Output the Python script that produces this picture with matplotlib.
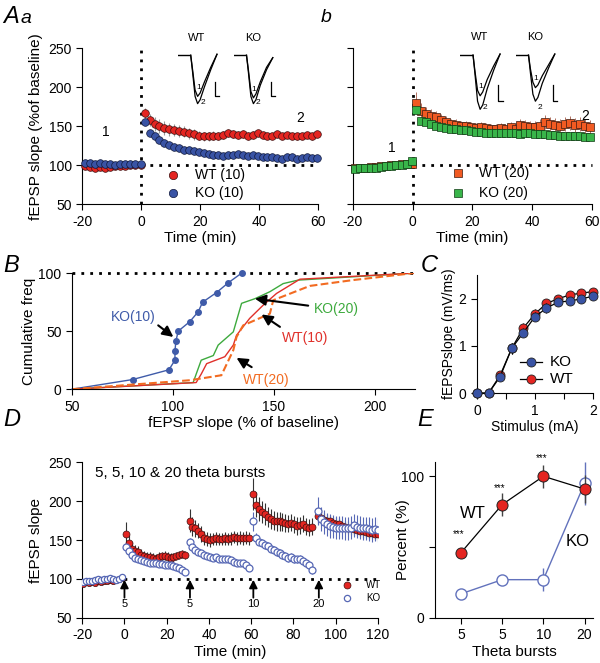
import numpy as np
import matplotlib
matplotlib.use("Agg")
import matplotlib.pyplot as plt

plt.rcParams['font.family'] = ['Liberation Sans', 'DejaVu Sans']
plt.rcParams['axes.unicode_minus'] = False

red = '#E42521'
blue = '#3953A4'
orange = '#F15A22'
green = '#39B54A'
ko_open = '#5768B5'

# ---------- data: panel A ----------
a_base_t = np.linspace(-19.2, -0.2, 12)
a_post_t = np.linspace(1.2, 59.5, 36)

aa_wt_base = [99, 98, 97, 98, 97, 98, 99, 99, 99, 100, 100, 100]
aa_ko_base = [103, 103, 102, 103, 101, 101, 100, 101, 101, 101, 102, 101]
aa_wt_post = [167, 158, 153, 150, 148, 146, 145, 144, 143, 141, 140, 138, 137, 137, 138, 138, 139, 141,
              140, 139, 140, 138, 139, 141, 139, 138, 138, 140, 138, 139, 138, 137, 138, 139, 137, 140]
aa_wt_err = [6, 8, 9, 9, 9, 8, 8, 8, 7, 7, 7, 6, 6, 6, 6, 5, 5, 5,
             5, 5, 5, 5, 5, 4, 4, 4, 4, 4, 4, 4, 4, 4, 4, 4, 4, 4]
aa_ko_post = [156, 142, 137, 133, 129, 126, 124, 122, 120, 119, 118, 117, 116, 114, 113, 113, 112, 113,
              113, 114, 113, 112, 113, 112, 111, 110, 110, 109, 108, 111, 110, 108, 109, 110, 109, 109]

ab_wt_base = [96, 97, 97, 98, 98, 99, 99, 100, 100, 101, 101, 102]
ab_ko_base = [95, 96, 96, 97, 97, 98, 99, 99, 100, 100, 101, 105]
ab_wt_post = [180, 170, 166, 163, 162, 158, 155, 153, 152, 150, 150, 149, 148, 149, 148, 147, 147, 148,
              146, 149, 147, 152, 150, 149, 149, 151, 155, 153, 152, 151, 153, 154, 152, 153, 150, 149]
ab_wt_err = [14, 10, 9, 9, 8, 8, 8, 7, 7, 7, 7, 6, 6, 6, 6, 6, 6, 6,
             6, 7, 7, 8, 8, 8, 8, 8, 9, 9, 9, 9, 9, 9, 9, 9, 9, 9]
ab_ko_post = [171, 157, 155, 153, 151, 149, 148, 147, 146, 145, 145, 144, 143, 143, 142, 142, 141, 141,
              142, 141, 141, 140, 141, 141, 140, 140, 140, 139, 139, 138, 138, 137, 137, 137, 136, 136]

# example traces (inset)
tr_base_x = [0, 0.9]
tr_base_y = [0, 0]
tr_x = [1.0, 1.15, 1.35, 1.55, 1.75, 2.1, 2.6, 3.1]
aa_wt_tr1 = [0, -0.3, -0.72, -0.85, -0.78, -0.55, -0.25, 0.02]
aa_wt_tr2 = [0, -0.35, -0.85, -1.0, -0.92, -0.65, -0.3, 0.02]
aa_ko_tr1 = [0, -0.3, -0.75, -0.88, -0.8, -0.55, -0.25, -0.05]
aa_ko_tr2 = [0, -0.35, -0.85, -1.0, -0.92, -0.62, -0.3, -0.05]
ab_wt_tr1 = [0, -0.3, -0.65, -0.75, -0.68, -0.45, -0.2, 0.02]
ab_wt_tr2 = [0, -0.35, -0.85, -1.0, -0.92, -0.62, -0.28, 0.02]
ab_ko_tr1 = [0, -0.25, -0.5, -0.6, -0.55, -0.38, -0.18, 0.02]
ab_ko_tr2 = [0, -0.32, -0.72, -0.85, -0.78, -0.52, -0.24, 0.02]

# ---------- data: panel B (cumulative freq) ----------
ko10_x = [50, 80, 98, 101, 101, 101.5, 102.6, 108.4, 112.5, 114.7, 121.6, 127.4, 134]
ko10_y = [0, 8.3, 16.7, 25, 33.3, 41.7, 50, 58.3, 66.7, 75, 83.3, 91.7, 100]
ko20_x = [50, 110, 114, 120, 122.4, 129.9, 134, 140.6, 148, 154.6, 162, 219]
ko20_y = [0, 5.7, 25, 29, 38, 49.4, 74, 78, 84, 91, 94, 100]
wt10_x = [50, 111.5, 114, 116.7, 125.7, 129.9, 131.5, 138, 144.7, 151.3, 158, 162.9, 219]
wt10_y = [0, 5.7, 13, 22, 28, 38, 46.5, 61, 72.4, 82.5, 89.6, 94.8, 100]
wt20_x = [50, 108.4, 124, 129.9, 131.5, 134.8, 148, 149.7, 167.8, 189, 219]
wt20_y = [0, 7.7, 12, 33.6, 45, 55, 65, 76.7, 89, 94, 100]

# ---------- data: panel C (input-output) ----------
stim = [0, 0.2, 0.4, 0.6, 0.8, 1.0, 1.2, 1.4, 1.6, 1.8, 2.0]
c_ko = [0, 0, 0.35, 0.95, 1.28, 1.62, 1.8, 1.93, 1.95, 2.0, 2.05]
c_wt = [0, 0, 0.38, 0.95, 1.38, 1.68, 1.9, 2.0, 2.08, 2.12, 2.15]
c_err = [0, 0, 0.08, 0.12, 0.1, 0.1, 0.1, 0.08, 0.08, 0.08, 0.08]

# ---------- data: panel D (repeated theta bursts) ----------
d_base_t = np.linspace(-19.5, -1, 14)
d_starts = [0, 30, 60, 91]
d_step = np.arange(21) * 1.4 + 0.8
d_wt_base = [94, 96, 95, 96, 95, 97, 96, 97, 98, 99, 98, 99, 100, 101]
d_ko_base = [96, 97, 98, 98, 99, 100, 99, 100, 100, 101, 100, 99, 100, 102]
d_wt = [
    [158, 146, 138, 136, 134, 131, 129, 128, 128, 127, 126, 128, 129, 130, 128, 127, 128, 129, 131, 132, 131],
    [175, 167, 165, 162, 158, 153, 151, 150, 151, 152, 151, 151, 152, 151, 152, 154, 152, 153, 152, 153, 152],
    [209, 195, 190, 186, 183, 180, 177, 175, 174, 174, 173, 172, 171, 172, 170, 168, 169, 171, 167, 166, 167],
    [181, 178, 176, 175, 174, 172, 171, 170, 168, 167, 166, 165, 164, 163, 162, 161, 160, 159, 159, 158, 158],
]
d_wt_err = [
    [15, 10, 9, 8, 8, 7, 7, 7, 6, 6, 6, 6, 6, 6, 6, 6, 5, 5, 5, 5, 5],
    [15, 12, 11, 10, 10, 9, 9, 9, 8, 8, 8, 8, 8, 8, 8, 8, 8, 8, 8, 8, 8],
    [20, 16, 15, 14, 14, 13, 13, 12, 12, 12, 12, 12, 11, 11, 11, 11, 11, 11, 11, 11, 11],
    [10, 9, 9, 9, 8, 8, 8, 8, 8, 8, 8, 8, 8, 8, 8, 8, 8, 8, 8, 8, 8],
]
d_ko = [
    [141, 136, 131, 127, 125, 124, 123, 122, 121, 120, 120, 119, 119, 118, 118, 118, 117, 116, 114, 112, 109],
    [148, 141, 137, 135, 133, 131, 130, 128, 127, 128, 126, 126, 125, 125, 124, 122, 121, 121, 120, 118, 114],
    [174, 153, 148, 146, 144, 142, 139, 137, 135, 133, 131, 129, 127, 128, 126, 125, 126, 123, 121, 118, 112],
    [187, 177, 173, 170, 168, 167, 166, 166, 166, 165, 165, 166, 169, 167, 166, 165, 165, 164, 163, 164, 163],
]
d_ko_err = [
    [4, 4, 3, 3, 3, 3, 3, 3, 3, 3, 3, 3, 3, 3, 3, 3, 3, 3, 3, 3, 3],
    [5, 4, 4, 4, 3, 3, 3, 3, 3, 3, 3, 3, 3, 3, 3, 3, 3, 3, 3, 3, 3],
    [12, 6, 5, 5, 5, 5, 5, 5, 5, 5, 5, 5, 5, 5, 5, 5, 5, 5, 5, 5, 5],
    [18, 16, 15, 15, 15, 15, 15, 15, 15, 15, 15, 15, 15, 15, 15, 15, 15, 15, 15, 15, 15],
]
arrow_t = [0, 31, 61, 92]
arrow_lab = ['5', '5', '10', '20']

# ---------- data: panel E ----------
e_labels = ['5', '5', '10', '20']
e_wt = [46, 80, 100, 91]
e_wt_err = [3, 8, 8, 10]
e_ko = [17, 27, 27, 95]
e_ko_err = [0, 0, 8, 15]


def style(ax):
    ax.spines['top'].set_visible(False)
    ax.spines['right'].set_visible(False)
    ax.tick_params(direction='out', length=4, width=0.8, labelsize=10)


def dotted(ax, x, y):
    ax.plot(x, y, color='black', lw=2, ls=(0, (1, 2.2)), zorder=1, clip_on=False)


def traces(rect, tr1, tr2, name):
    ins = fig.add_axes(rect)
    ins.axis('off')
    ins.set_xlim(0, 3.5)
    ins.set_ylim(-1.05, 0.1)
    ins.plot(tr_base_x, tr_base_y, color='black', lw=1)
    ins.plot(tr_x, tr1, color='black', lw=0.9)
    ins.plot(tr_x, tr2, color='black', lw=0.9)
    ins.plot([2.95, 2.95, 3.3], [-0.55, -0.85, -0.85], color='black', lw=0.9)
    ins.text(1.6, min(tr1) + 0.15, '1', fontsize=6, ha='center')
    ins.text(1.95, -1.0, '2', fontsize=6, ha='center')
    ins.text(1.5, 0.25, name, fontsize=8, ha='center', va='bottom', clip_on=False)


fig = plt.figure(figsize=(6, 6.63), dpi=100)

# ---------- Aa ----------
ax = fig.add_axes([0.137, 0.692, 0.393, 0.235])
style(ax)
ax.set_xlim(-20, 60)
ax.set_ylim(50, 250)
dotted(ax, [0, 0], [50, 250])
dotted(ax, [0, 60], [100, 100])
ax.errorbar(a_post_t, aa_wt_post, yerr=aa_wt_err, fmt='none', ecolor='#9a9a9a', elinewidth=0.8, zorder=2)
ax.plot(a_base_t, aa_wt_base, 'o', color=red, mec='#3a1010', mew=0.5, ms=5.5, zorder=3, clip_on=False)
ax.plot(a_base_t, aa_ko_base, 'o', color=blue, mec='#10183a', mew=0.5, ms=5.5, zorder=4, clip_on=False)
ax.plot(a_post_t, aa_wt_post, 'o', color=red, mec='#3a1010', mew=0.5, ms=5.5, zorder=3, clip_on=False)
ax.plot(a_post_t, aa_ko_post, 'o', color=blue, mec='#10183a', mew=0.5, ms=5.5, zorder=4, clip_on=False)
ax.set_yticks([50, 100, 150, 200, 250])
ax.set_xticks([-20, 0, 20, 40, 60])
ax.set_xlabel('Time (min)', fontsize=11, labelpad=2)
ax.set_ylabel('fEPSP slope (%of baseline)', fontsize=11)
ax.text(-12, 137, '1', fontsize=10, ha='center')
ax.text(54, 155, '2', fontsize=10, ha='center')
ax.plot(0.386, 0.186, 'o', color=red, mec='#3a1010', mew=0.5, ms=6, transform=ax.transAxes)
ax.plot(0.386, 0.07, 'o', color=blue, mec='#10183a', mew=0.5, ms=6, transform=ax.transAxes)
ax.text(0.48, 0.186, 'WT (10)', fontsize=10, va='center', transform=ax.transAxes)
ax.text(0.48, 0.07, 'KO (10)', fontsize=10, va='center', transform=ax.transAxes)
fig.text(0.005, 0.966, 'A', fontsize=17, style='italic')
fig.text(0.034, 0.966, 'a', fontsize=14, style='italic')
traces([0.297, 0.840, 0.073, 0.084], aa_wt_tr1, aa_wt_tr2, 'WT')
traces([0.390, 0.840, 0.073, 0.084], aa_ko_tr1, aa_ko_tr2, 'KO')

# ---------- Ab ----------
ax = fig.add_axes([0.588, 0.692, 0.398, 0.235])
style(ax)
ax.set_xlim(-20, 60)
ax.set_ylim(50, 250)
dotted(ax, [0, 0], [50, 250])
dotted(ax, [0, 60], [100, 100])
ax.errorbar(a_post_t, ab_wt_post, yerr=ab_wt_err, fmt='none', ecolor='#b07060', elinewidth=0.7, zorder=2)
ax.plot(a_base_t, ab_wt_base, 's', color=orange, mec='#3a1a10', mew=0.5, ms=5.5, zorder=3, clip_on=False)
ax.plot(a_base_t, ab_ko_base, 's', color=green, mec='#103a14', mew=0.5, ms=5.5, zorder=4, clip_on=False)
ax.plot(a_post_t, ab_wt_post, 's', color=orange, mec='#3a1a10', mew=0.5, ms=5.5, zorder=3, clip_on=False)
ax.plot(a_post_t, ab_ko_post, 's', color=green, mec='#103a14', mew=0.5, ms=5.5, zorder=4, clip_on=False)
ax.set_yticks([50, 100, 150, 200, 250])
ax.set_yticklabels([])
ax.set_xticks([-20, 0, 20, 40, 60])
ax.set_xlabel('Time (min)', fontsize=11, labelpad=2)
ax.text(-7, 117, '1', fontsize=10, ha='center')
ax.text(58, 158, '2', fontsize=10, ha='center')
ax.plot(0.44, 0.2, 's', color=orange, mec='#3a1a10', mew=0.5, ms=6, transform=ax.transAxes)
ax.plot(0.44, 0.07, 's', color=green, mec='#103a14', mew=0.5, ms=6, transform=ax.transAxes)
ax.text(0.53, 0.2, 'WT (20)', fontsize=10, va='center', transform=ax.transAxes)
ax.text(0.53, 0.07, 'KO (20)', fontsize=10, va='center', transform=ax.transAxes)
fig.text(0.535, 0.967, 'b', fontsize=14, style='italic')
traces([0.767, 0.831, 0.075, 0.094], ab_wt_tr1, ab_wt_tr2, 'WT')
traces([0.860, 0.831, 0.073, 0.094], ab_ko_tr1, ab_ko_tr2, 'KO')

# ---------- B ----------
ax = fig.add_axes([0.12, 0.413, 0.572, 0.175])
style(ax)
ax.set_xlim(50, 220)
ax.set_ylim(0, 100)
dotted(ax, [50, 220], [100, 100])
ax.plot(ko10_x, ko10_y, '-o', color='#3F5BA9', lw=1, ms=4, markevery=list(range(1, 13)), clip_on=False)
ax.plot(ko20_x, ko20_y, '-', color='#3DAA3D', lw=1)
ax.plot(wt10_x, wt10_y, '-', color='#E0302A', lw=1)
ax.plot(wt20_x, wt20_y, '--', color='#F26B21', lw=1.5)
ax.set_xticks([50, 100, 150, 200])
ax.set_yticks([0, 50, 100])
ax.set_xlabel('fEPSP slope (% of baseline)', fontsize=11, labelpad=2)
ax.set_ylabel('Cumulative freq', fontsize=11, labelpad=2)
arr = dict(arrowstyle='-|>', color='black', lw=1.5, mutation_scale=16, shrinkA=0, shrinkB=0)
ax.annotate('', xy=(100.2, 45), xytext=(92.7, 55), arrowprops=arr)
ax.annotate('', xy=(140.6, 78), xytext=(167, 72), arrowprops=arr)
ax.annotate('', xy=(143.9, 64.4), xytext=(153, 53.7), arrowprops=arr)
ax.annotate('', xy=(131.5, 27), xytext=(139, 19), arrowprops=arr)
ax.text(80.4, 62, 'KO(10)', color='#3F5BA9', fontsize=10, ha='center', va='center')
ax.text(181, 69.5, 'KO(20)', color='#3DAA3D', fontsize=10, ha='center', va='center')
ax.text(165.3, 44, 'WT(10)', color='#E0302A', fontsize=10, ha='center', va='center')
ax.text(146.4, 8, 'WT(20)', color='#F26B21', fontsize=10, ha='center', va='center')
fig.text(0.005, 0.59, 'B', fontsize=17, style='italic')

# ---------- C ----------
ax = fig.add_axes([0.795, 0.407, 0.193, 0.178])
style(ax)
ax.set_xlim(0, 2.0)
ax.set_ylim(0, 2.5)
ax.errorbar(stim, c_wt, yerr=c_err, fmt='-o', color='black', mfc=red, mec='#222222', mew=0.6,
            ms=6.5, lw=0.9, elinewidth=0.8, capsize=0, clip_on=False, zorder=3)
ax.errorbar(stim, c_ko, yerr=c_err, fmt='-o', color='black', mfc=blue, mec='#222222', mew=0.6,
            ms=6.5, lw=0.9, elinewidth=0.8, capsize=0, clip_on=False, zorder=4)
ax.set_xticks([0, 0.5, 1, 1.5, 2])
ax.set_xticklabels(['0', '', '1', '', '2'])
ax.set_yticks([0, 1, 2])
ax.set_xlabel('Stimulus (mA)', fontsize=10, labelpad=2)
ax.set_ylabel('fEPSPslope (mV/ms)', fontsize=10, labelpad=2)
ax.plot([0.37, 0.56], [0.26, 0.26], color='black', lw=0.9, transform=ax.transAxes)
ax.plot(0.47, 0.26, 'o', color=blue, mec='#222222', mew=0.6, ms=6.5, transform=ax.transAxes)
ax.plot([0.37, 0.56], [0.12, 0.12], color='black', lw=0.9, transform=ax.transAxes)
ax.plot(0.47, 0.12, 'o', color=red, mec='#222222', mew=0.6, ms=6.5, transform=ax.transAxes)
ax.text(0.63, 0.26, 'KO', fontsize=11, va='center', transform=ax.transAxes)
ax.text(0.63, 0.12, 'WT', fontsize=11, va='center', transform=ax.transAxes)
fig.text(0.702, 0.59, 'C', fontsize=17, style='italic')

# ---------- D ----------
ax = fig.add_axes([0.137, 0.068, 0.493, 0.235])
style(ax)
ax.set_xlim(-20, 120)
ax.set_ylim(50, 250)
dotted(ax, [0, 120], [100, 100])
ax.plot(d_base_t, d_wt_base, 'o', color=red, mec='#3a1010', mew=0.5, ms=4.5, zorder=3)
ax.plot(d_base_t, d_ko_base, 'o', mfc='white', mec=ko_open, mew=0.9, ms=4.5, zorder=4)
for i in range(4):
    t = d_starts[i] + d_step
    ax.errorbar(t, d_wt[i], yerr=d_wt_err[i], fmt='none', ecolor='#333333', elinewidth=0.8, zorder=2)
    ax.errorbar(t, d_ko[i], yerr=d_ko_err[i], fmt='none', ecolor=ko_open, elinewidth=0.8, zorder=2)
    ax.plot(t, d_wt[i], 'o', color=red, mec='#3a1010', mew=0.5, ms=5, zorder=3)
    ax.plot(t, d_ko[i], 'o', mfc='white', mec=ko_open, mew=0.9, ms=5, zorder=4)
for t, lab in zip(arrow_t, arrow_lab):
    ax.annotate('', xy=(t, 99), xytext=(t, 76),
                arrowprops=dict(arrowstyle='-|>', color='black', lw=1.3, mutation_scale=12, shrinkA=0, shrinkB=0))
    ax.text(t, 68, lab, fontsize=8, ha='center', va='center')
ax.plot(0.895, 0.21, 'o', color=red, mec='#3a1010', mew=0.5, ms=5, transform=ax.transAxes)
ax.plot(0.895, 0.13, 'o', mfc='white', mec=ko_open, mew=0.9, ms=4.5, transform=ax.transAxes)
ax.text(0.96, 0.21, 'WT', fontsize=7, va='center', transform=ax.transAxes)
ax.text(0.96, 0.13, 'KO', fontsize=7, va='center', transform=ax.transAxes)
ax.text(-14, 236, '5, 5, 10 & 20 theta bursts', fontsize=11, va='center')
ax.set_xticks([-20, 0, 20, 40, 60, 80, 100, 120])
ax.set_yticks([50, 100, 150, 200, 250])
ax.set_xlabel('Time (min)', fontsize=11, labelpad=2)
ax.set_ylabel('fEPSP slope', fontsize=11)
fig.text(0.005, 0.358, 'D', fontsize=17, style='italic')

# ---------- E ----------
ax = fig.add_axes([0.725, 0.068, 0.263, 0.235])
style(ax)
xi = np.arange(len(e_labels))
ax.set_xlim(-0.63, 3.2)
ax.set_ylim(0, 110)
ax.errorbar(xi, e_ko, yerr=e_ko_err, fmt='-o', color='#6272BC', mfc='white', mec='#6272BC', mew=1,
            ms=8, lw=1, elinewidth=1, capsize=0, clip_on=False, zorder=3)
ax.errorbar(xi, e_wt, yerr=e_wt_err, fmt='-o', color='black', mfc=red, mec='#222222', mew=0.7,
            ms=8, lw=0.9, elinewidth=1, ecolor='#444444', capsize=0, clip_on=False, zorder=4)
for x, y in zip(xi[:3], [59, 91.5, 113]):
    ax.text(x - 0.05, y, '***', fontsize=7, ha='center', va='center', clip_on=False)
ax.text(0.3, 74, 'WT', fontsize=12, ha='center', va='center')
ax.text(2.82, 54, 'KO', fontsize=12, ha='center', va='center')
ax.set_xticks(xi)
ax.set_xticklabels(e_labels)
ax.set_yticks([0, 50, 100])
ax.set_yticklabels(['0', '', '100'])
ax.set_xlabel('Theta bursts', fontsize=11, labelpad=2)
ax.set_ylabel('Percent (%)', fontsize=11, labelpad=-6)
fig.text(0.695, 0.358, 'E', fontsize=17, style='italic')

fig.savefig('out.png', dpi=100)
